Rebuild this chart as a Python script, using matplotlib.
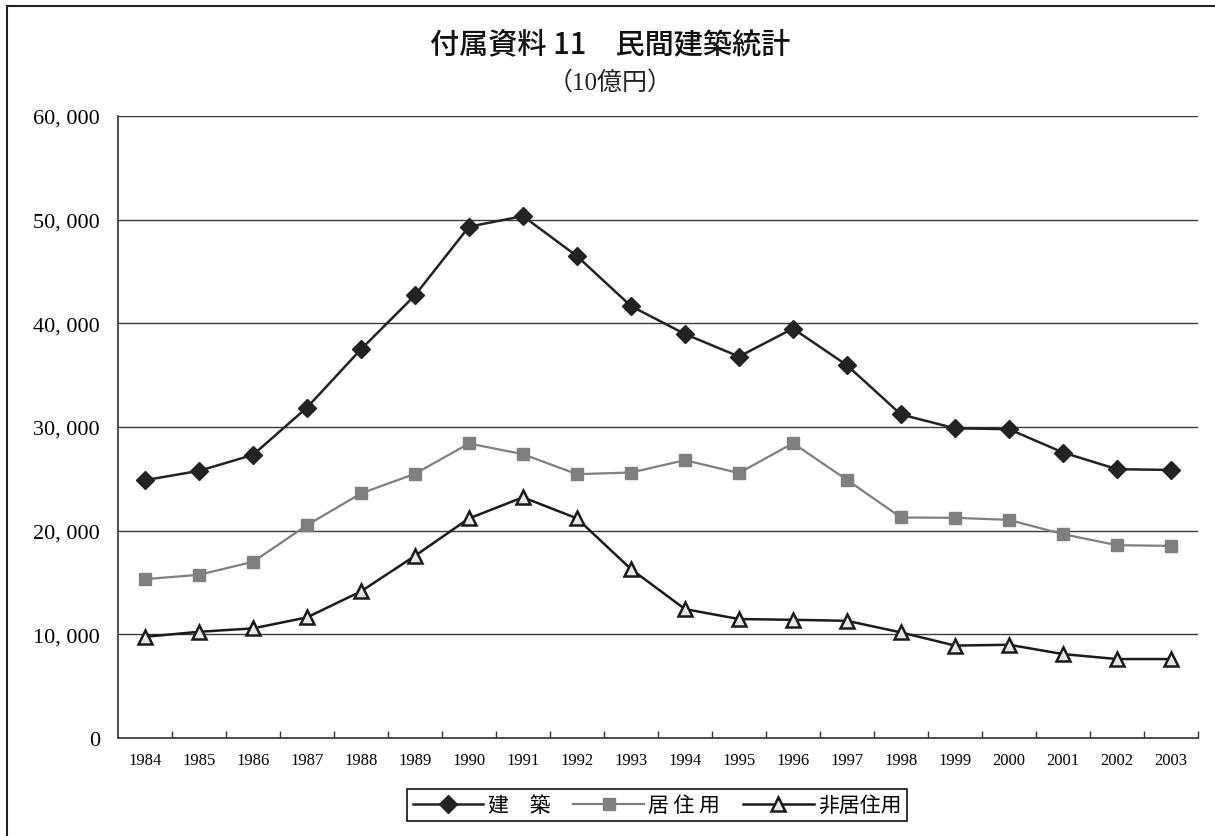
import matplotlib
matplotlib.use("Agg")
import matplotlib.pyplot as plt
from matplotlib.lines import Line2D
from matplotlib.ticker import FixedLocator, FuncFormatter

# data (10億円)
years = [str(y) for y in range(1984, 2004)]
kenchiku = [24860, 25760, 27300, 31870, 37490, 42700, 49320, 50340, 46480, 41660,
            38960, 36790, 39490, 35950, 31200, 29870, 29780, 27530, 25920, 25850]
kyojuu = [15310, 15730, 16980, 20520, 23580, 25480, 28400, 27370, 25440, 25600,
          26790, 25550, 28430, 24890, 21260, 21230, 21030, 19650, 18590, 18520]
hikyojuu = [9750, 10230, 10560, 11620, 14130, 17560, 21170, 23210, 21170, 16280,
            12420, 11460, 11390, 11290, 10170, 8900, 8980, 8080, 7600, 7600]

title = "付属資料 11　民間建築統計"
subtitle = "（10億円）"
labels = ["建　築", "居 住 用", "非居住用"]

serif = ["Liberation Serif", "Noto Sans CJK JP"]
gothic = ["Noto Sans CJK JP", "DejaVu Sans"]

fig = plt.figure(figsize=(12.15, 8.37), dpi=100)
ax = fig.add_axes([0.0971, 0.1173, 0.8889, 0.7429])

x = list(range(len(years)))
ax.plot(x, kenchiku, color="#222222", lw=1.8, marker="D", ms=9,
        mfc="#222222", mec="#222222", label=labels[0], zorder=4)
ax.plot(x, kyojuu, color="#7f7f7f", lw=1.6, marker="s", ms=8.5,
        mfc="#7f7f7f", mec="#7f7f7f", label=labels[1], zorder=3)
ax.plot(x, hikyojuu, color="#1a1a1a", lw=1.8, marker="^", ms=10,
        mfc="#e8e8e8", mec="#1a1a1a", mew=1.8, label=labels[2], zorder=5)

ax.set_xlim(-0.5, len(years) - 0.5)
ax.set_ylim(0, 60000)
ax.set_yticks(range(0, 60001, 10000))
ax.yaxis.set_major_formatter(FuncFormatter(lambda v, p: f"{int(v):,}".replace(",", ", ")))
ax.grid(axis="y", color="#3a3a3a", lw=1.0)
ax.set_axisbelow(True)

ax.set_xticks(x)
ax.set_xticklabels(years)
ax.xaxis.set_minor_locator(FixedLocator([i + 0.5 for i in range(len(years))]))
ax.tick_params(axis="x", which="major", length=0, pad=10)
ax.tick_params(axis="x", which="minor", direction="in", length=5, width=1, color="#333333")
ax.tick_params(axis="y", length=0, pad=13)
for t in ax.get_xticklabels():
    t.set_fontfamily(serif)
    t.set_fontsize(12)
for t in ax.get_yticklabels():
    t.set_fontfamily(serif)
    t.set_fontsize(16)

for s in ["top", "right"]:
    ax.spines[s].set_visible(False)
for s in ["left", "bottom"]:
    ax.spines[s].set_color("#333333")
    ax.spines[s].set_linewidth(1.2)

fig.text(0.502, 1 - 45 / 837, title, ha="center", va="center",
         fontsize=21, family=gothic, color="#111111", fontweight="medium")
fig.text(0.502, 1 - 83 / 837, subtitle, ha="center", va="center",
         fontsize=18, family=serif, color="#222222")

leg = fig.legend(loc="center", bbox_to_anchor=(657 / 1215, 1 - 806 / 837), ncol=3,
                 frameon=True, fancybox=False, edgecolor="#111111", framealpha=1,
                 prop={"family": gothic, "size": 15}, handlelength=3.4,
                 handletextpad=0.2, columnspacing=1.1, borderpad=0.25)
leg.get_frame().set_linewidth(1.2)

# outer frame
fig.add_artist(Line2D([7 / 1215, 7 / 1215], [0, 1 - 7 / 837], color="#222222", lw=1.5))
fig.add_artist(Line2D([7 / 1215, 1], [1 - 7 / 837, 1 - 7 / 837], color="#222222", lw=1.5))

fig.savefig("out.png", dpi=100)
